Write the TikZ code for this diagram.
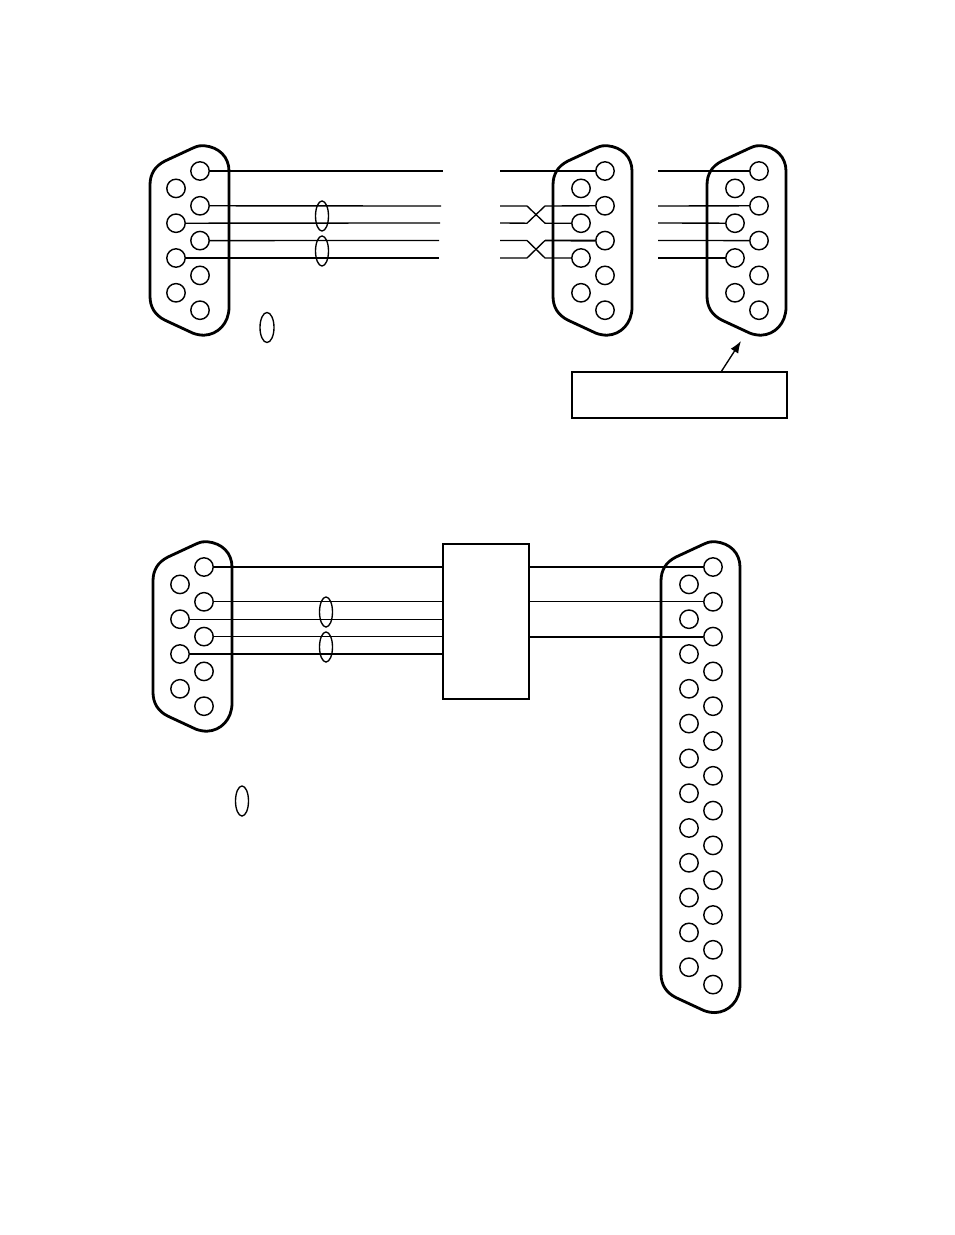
\documentclass[tikz,border=0pt]{standalone}
\tikzset{
  pin/.style={circle,draw,line width=0.72pt,minimum size=9.2pt,inner sep=0pt},
  wire/.style={line width=0.68pt},
  heavywire/.style={line width=0.95pt},
  shellline/.style={line width=1.4pt,line join=round},
  twist/.style={draw,ellipse,line width=0.68pt,minimum width=6.5pt,minimum height=15pt,inner sep=0pt},
  plainbox/.style={draw,line width=0.68pt,inner sep=0pt},
}
\usetikzlibrary{shapes.geometric,arrows.meta}
% name, x, y of first pin, rows in the long column, shell shift x, extra bottom
\newcommand{\dconn}[6]{%
  \pgfmathsetmacro{\Llast}{(#4-1)*34.8}%
  \pgfmathsetmacro{\Lbot}{\Llast+25+#6}%
  \draw[shellline,shift={(#2+#5,#3)}]
    (-50,14) .. controls (-50,3) and (-45,-5) .. (-35,-10)
    -- (-7,-23) .. controls (-2,-25.3) and (1,-25.5) .. (4,-25.3)
    .. controls (19,-24) and (29,-14) .. (29,0)
    -- (29,\Lbot-28)
    .. controls (29,\Lbot-12) and (18,\Lbot-0.5) .. (4,\Lbot)
    .. controls (1,\Lbot) and (-3,\Lbot-0.5) .. (-7,\Lbot-2)
    -- (-35,\Lbot-15)
    .. controls (-45,\Lbot-20) and (-50,\Lbot-28) .. (-50,\Lbot-39)
    -- cycle;
  \pgfmathtruncatemacro{\Lleft}{#4-1}%
  \foreach \i in {1,...,#4}
    \node[pin] (#1r\i) at (#2,#3+\i*34.8-34.8) {};
  \foreach \i in {1,...,\Lleft}
    \node[pin] (#1l\i) at (#2-24,#3+\i*34.8-17.4) {};
}
\begin{document}
\begin{tikzpicture}[x=0.5pt,y=-0.5pt]
\useasboundingbox (0,0) rectangle (954,1235);
\fill[white] (0,0) rectangle (954,1235);

% top row connectors
\dconn{a}{200}{171}{5}{0}{0}
\dconn{b}{605}{171}{5}{-2}{0}
\dconn{c}{759}{171}{5}{-2}{0}

% connector A wires
\coordinate (ae1) at (443,171);
\coordinate (ae2) at (441,206);
\coordinate (ae3) at (440,223);
\coordinate (ae4) at (439,240.5);
\coordinate (ae5) at (439,258);
\draw[wire] (ar1.east) -- (ae1);
\draw[wire] (ar2.east) -- (ae2);
\draw[wire] (al2.east) -- (ae3);
\draw[wire] (ar3.east) -- (ae4);
\draw[wire] (al3.east) -- (ae5);
\node[twist] (t1) at (322,216) {};
\node[twist] (t2) at (322,251) {};
\node[twist,minimum width=7pt] (t3) at (267,327.5) {};

% connector B wires with crossovers
\coordinate (bs1) at (500,171);
\coordinate (bs2) at (500,206);
\coordinate (bs3) at (500,223);
\coordinate (bs4) at (500,240.5);
\coordinate (bs5) at (500,258);
\draw[wire] (bs1) -- (br1.west);
\draw[wire] (bs2) -- (527,206) -- (545,223.2) -- (bl2.west);
\draw[wire] (bs3) -- (527,223.2) -- (545,206) -- (br2.west);
\draw[wire] (bs4) -- (527,240.5) -- (545,258) -- (bl3.west);
\draw[wire] (bs5) -- (527,258) -- (545,240.5);
\draw[heavywire] (545,240.5) -- (br3.west);

% connector C wires
\coordinate (cs1) at (658,171);
\coordinate (cs2) at (658,206);
\coordinate (cs3) at (658,223);
\coordinate (cs4) at (658,240.5);
\coordinate (cs5) at (658,258);
\draw[wire] (cs1) -- (cr1.west);
\draw[wire] (cs2) -- (cr2.west);
\draw[wire] (cs3) -- (cl2.west);
\draw[wire] (cs4) -- (cr3.west);
\draw[wire] (cs5) -- (cl3.west);

% label box and arrow
\node[plainbox,minimum width=107.5pt,minimum height=23pt] (lbl) at (679.5,395) {};
\coordinate (tip) at (741,341);
\draw[wire,-{Latex[length=6pt,width=4.5pt]}] (721,372) -- (tip);

% lower diagram
\dconn{d}{204}{567}{5}{-1}{0}
\dconn{e}{713}{567}{13}{-2}{3}
\node[plainbox,minimum width=43pt,minimum height=77.5pt] (adp) at (486,621.5) {};
\draw[wire] (dr1.east) -- (dr1.east -| adp.west);
\draw[wire] (dr2.east) -- (dr2.east -| adp.west);
\draw[wire] (dl2.east) -- (dl2.east -| adp.west);
\draw[wire] (dr3.east) -- (dr3.east -| adp.west);
\draw[wire] (dl3.east) -- (dl3.east -| adp.west);
\draw[wire] (er1.west -| adp.east) -- (er1.west);
\draw[wire] (er2.west -| adp.east) -- (er2.west);
\draw[heavywire] (er3.west -| adp.east) -- (er3.west);
\node[twist] (t4) at (326,612) {};
\node[twist] (t5) at (326,647) {};
\node[twist] (t6) at (242,801) {};
\end{tikzpicture}
\end{document}
